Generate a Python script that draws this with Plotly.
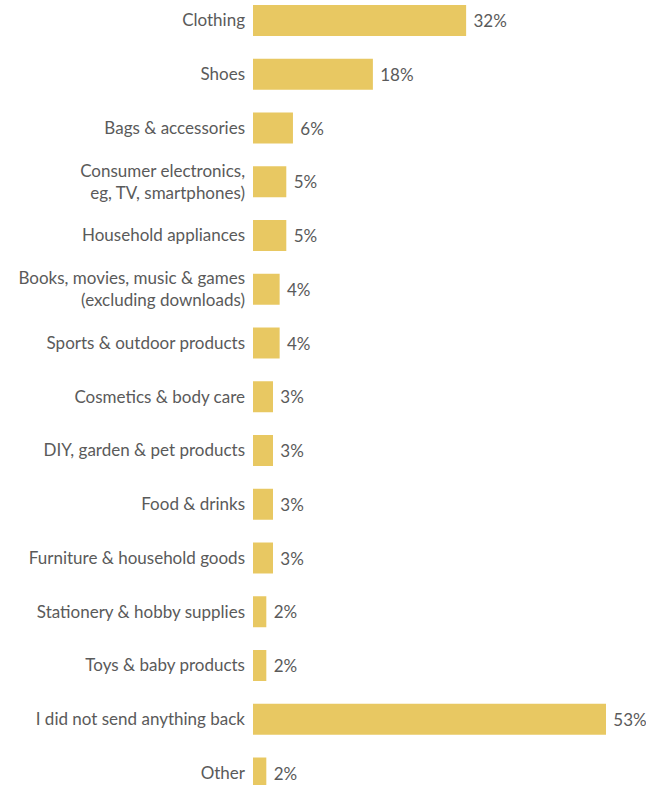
import plotly.graph_objects as go

categories = [
    "Clothing", "Shoes", "Bags & accessories",
    "Consumer electronics,<br>eg, TV, smartphones)",
    "Household appliances",
    "Books, movies, music & games<br>(excluding downloads)",
    "Sports & outdoor products", "Cosmetics & body care",
    "DIY, garden & pet products", "Food & drinks",
    "Furniture & household goods", "Stationery & hobby supplies",
    "Toys & baby products", "I did not send anything back", "Other",
]
values = [32, 18, 6, 5, 5, 4, 4, 3, 3, 3, 3, 2, 2, 53, 2]

W, H = 646, 785
left = 253
px_per_unit = (606 - 253) / 53.0
row = 53.75
first_center = 20.5
FONT = "Lato"
COLOR = "#5a5a5a"

fig = go.Figure(go.Bar(
    x=values, y=categories, orientation="h",
    marker=dict(color="#E8C862", line=dict(width=0)),
    width=31 / row,
    text=[f"{v}%" for v in values],
    texttemplate=" %{text}",
    textposition="outside",
    textfont=dict(family=FONT, size=17, color=COLOR),
    cliponaxis=False,
    hoverinfo="skip",
))

n = len(categories)
fig.update_layout(
    width=W, height=H,
    margin=dict(l=left, r=0, t=0, b=0),
    paper_bgcolor="white", plot_bgcolor="white",
    showlegend=False,
    font=dict(family=FONT, size=17, color=COLOR),
    xaxis=dict(range=[0, (W - left) / px_per_unit], visible=False, fixedrange=True),
    yaxis=dict(
        range=[n - 1 + (H - (first_center + row * (n - 1))) / row,
               -first_center / row],
        showgrid=False, zeroline=False, showline=False, ticks="",
        ticklabelstandoff=7,
        tickfont=dict(family=FONT, size=17, color=COLOR),
        fixedrange=True,
    ),
)

fig.write_html(
    "out.html",
    config={"displayModeBar": False},
    post_script="document.body.style.margin='0';document.body.style.overflow='hidden';",
)
